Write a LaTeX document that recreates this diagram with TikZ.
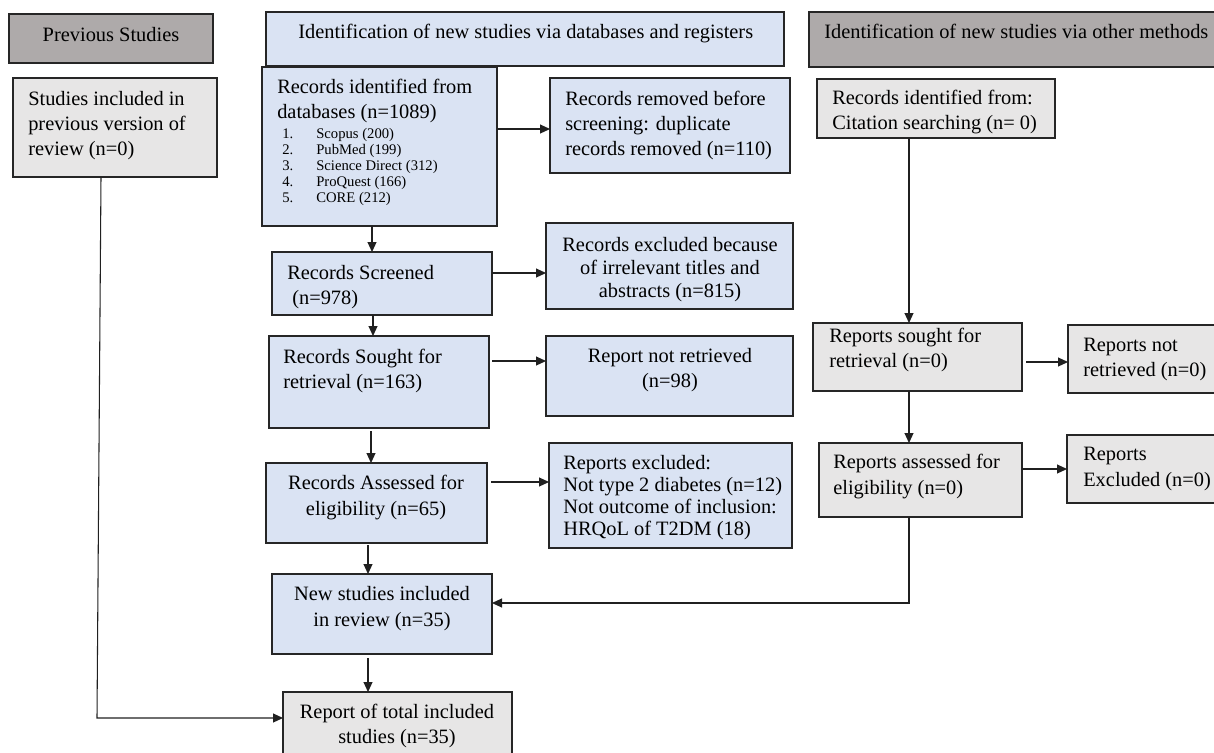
\documentclass[tikz,border=0pt]{standalone}
\usepackage{fontspec}
\setmainfont{Liberation Serif}
\usetikzlibrary{arrows.meta,fit}
\definecolor{bluefill}{HTML}{DAE3F3}
\definecolor{grayhead}{HTML}{AEAAAA}
\definecolor{lgfill}{HTML}{E7E6E6}
\definecolor{edgecol}{HTML}{262626}
\definecolor{wirecol}{HTML}{202020}
\newcommand\mylines[2]{\begin{tabular}[t]{@{}#1@{}}#2\end{tabular}}
\begin{document}
\begin{tikzpicture}[x=0.75pt,y=-0.75pt,
  box/.style={draw=edgecol, line width=1pt, inner sep=0pt, outer sep=0pt},
  bluebox/.style={box, fill=bluefill},
  graybox/.style={box, fill=lgfill},
  headbox/.style={box, fill=grayhead},
  txt/.style={inner sep=0pt, font=\fontsize{15.3pt}{18.75pt}\selectfont},
  wide/.style={font=\fontsize{15.3pt}{19.5pt}\selectfont},
  small/.style={inner sep=0pt, font=\fontsize{11pt}{12pt}\selectfont},
  arr/.style={draw=wirecol, line width=0.8pt, -{Triangle[length=7.5pt,width=6.75pt]}}]
\useasboundingbox (0,0) rectangle (1214,753);
\clip (0,0) rectangle (1214,753);
% boxes
\node[headbox, fit={(9,14)(213,63)}] (prevh) {};
\node[graybox, fit={(13,78)(217,177)}] (prev) {};
\node[bluebox, fit={(266,12)(784,66)}] (hdb) {};
\node[headbox, fit={(809,12)(1230,67)}] (hoth) {};
\node[bluebox, fit={(262,67)(497,226)}] (recid) {};
\node[bluebox, fit={(550,78)(790,173)}] (recrm) {};
\node[graybox, fit={(817,79)(1055,138)}] (recoth) {};
\node[bluebox, fit={(272,252)(492,315)}] (screened) {};
\node[bluebox, fit={(546,223)(793,309)}] (excl) {};
\node[bluebox, fit={(269,336)(489,428)}] (sought) {};
\node[bluebox, fit={(546,336)(793,416)}] (notret) {};
\node[bluebox, fit={(266,463)(487,543)}] (assess) {};
\node[bluebox, fit={(549,443)(792,548)}] (rexcl) {};
\node[bluebox, fit={(272,574)(492,654)}] (newinc) {};
\node[graybox, fit={(283,692)(512,770)}] (total) {};
\node[graybox, fit={(813,323)(1022,391)}] (rsought) {};
\node[graybox, fit={(1068,325)(1230,393)}] (rnotret) {};
\node[graybox, fit={(819,443)(1022,517)}] (rassess) {};
\node[graybox, fit={(1067,435)(1230,503)}] (rexcl2) {};
% texts
\node[txt, anchor=base] (tprevh) at (111,41) {Previous Studies};
\node[txt, font=\fontsize{15.3pt}{19.1pt}\selectfont, anchor=base west] (tprev) at (28,105) {\mylines{l}{Studies included in\\previous version of\\review (n=0)}};
\node[txt, anchor=base west] (thdb) at (298,38) {Identification of new studies via databases and registers};
\node[txt, anchor=base west] (thoth) at (824,38) {Identification of new studies via other methods};
\node[txt, anchor=base west] (trecid) at (277,93) {\mylines{l}{Records identified from\\databases (n=1089)}};
\node[small, anchor=base west] (tnum) at (282,138) {\mylines{l}{1.\\2.\\3.\\4.\\5.}};
\node[small, anchor=base west] (titems) at (316,138) {\mylines{l}{Scopus (200)\\PubMed (199)\\Science Direct (312)\\ProQuest (166)\\CORE (212)}};
\node[txt, anchor=base west] (trecrm) at (565,105) {\mylines{l}{Records removed before\\screening: duplicate\\records removed (n=110)}};
\node[txt, anchor=base west] (trecoth) at (832,104) {\mylines{l}{Records identified from:\\Citation searching (n= 0)}};
\node[txt, anchor=base west] (tscr) at (287,279) {\mylines{l}{Records Screened\\\hspace{3.75pt}(n=978)}};
\node[txt, font=\fontsize{15.3pt}{17.25pt}\selectfont, anchor=base] (texcl) at (670,251) {\mylines{c}{Records excluded because\\of irrelevant titles and\\abstracts (n=815)}};
\node[txt, anchor=base] (tnotret) at (670,362) {\mylines{c}{Report not retrieved\\(n=98)}};
\node[txt, anchor=base west] (tsought) at (283,363) {\mylines{l}{Records Sought for\\retrieval (n=163)}};
\node[txt, wide, anchor=base] (tassess) at (376,489) {\mylines{c}{Records Assessed for\\eligibility (n=65)}};
\node[txt, font=\fontsize{15.3pt}{16.5pt}\selectfont, anchor=base west] (trexcl) at (563,469) {\mylines{l}{Reports excluded:\\Not type 2 diabetes (n=12)\\Not outcome of inclusion:\\HRQoL of T2DM (18)}};
\node[txt, wide, anchor=base] (tnew) at (382,600) {\mylines{c}{New studies included\\in review (n=35)}};
\node[txt, anchor=base] (ttotal) at (397,718) {\mylines{c}{Report of total included\\studies (n=35)}};
\node[txt, anchor=base west] (trs) at (829,342) {\mylines{l}{Reports sought for\\retrieval (n=0)}};
\node[txt, anchor=base west] (trnr) at (1083,351) {\mylines{l}{Reports not\\retrieved (n=0)}};
\node[txt, wide, anchor=base west] (tra) at (833,468) {\mylines{l}{Reports assessed for\\eligibility (n=0)}};
\node[txt, wide, anchor=base west] (tre) at (1083,460) {\mylines{l}{Reports\\Excluded (n=0)}};
% connectors
\draw[arr] (recid.east |- 0,129) -- (recrm.west |- 0,129);
\draw[arr] (recid.south -| 372,0) -- (screened.north -| 372,0);
\draw[arr] (screened.east |- 0,273) -- (excl.west |- 0,273);
\draw[arr] (screened.south -| 373,0) -- (sought.north -| 373,0);
\draw[arr, shorten <=2.25pt] (sought.east |- 0,361) -- (notret.west |- 0,361);
\draw[arr, shorten <=2.25pt] (sought.south -| 371,0) -- (assess.north -| 371,0);
\draw[arr, shorten <=3pt] (assess.east |- 0,482) -- (rexcl.west |- 0,482);
\draw[arr, shorten <=1.5pt] (assess.south -| 368,0) -- (newinc.north -| 368,0);
\draw[arr, shorten <=3pt] (newinc.south -| 368,0) -- (total.north -| 368,0);
\coordinate (bendA) at (97,718);
\draw[arr] (prev.south -| 101,0) -- (bendA) -- (total.west |- bendA);
\draw[arr] (recoth.south -| 909,0) -- (rsought.north -| 909,0);
\draw[arr, shorten <=3pt] (rsought.east |- 0,362) -- (rnotret.west |- 0,362);
\draw[arr] (rsought.south -| 909,0) -- (rassess.north -| 909,0);
\draw[arr] (rassess.east |- 0,469) -- (rexcl2.west |- 0,469);
\coordinate (bendB) at (909,603);
\draw[arr] (rassess.south -| 909,0) -- (bendB) -- (newinc.east |- bendB);
\end{tikzpicture}
\end{document}
